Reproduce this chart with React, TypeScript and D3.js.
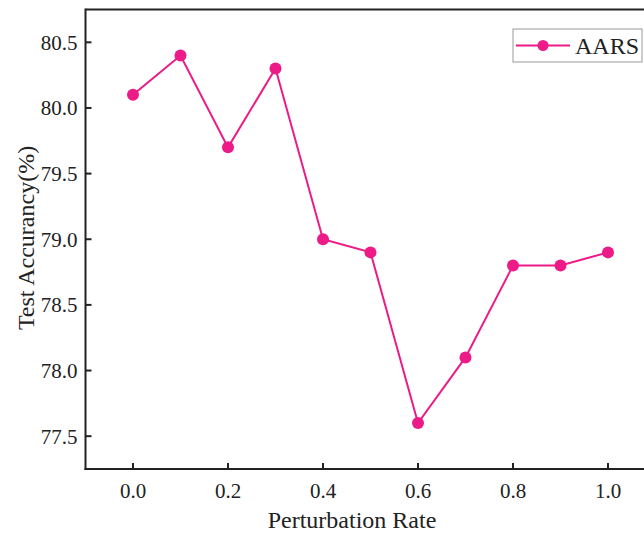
import React from "react";
import * as d3 from "d3";

const rates = [0.0, 0.1, 0.2, 0.3, 0.4, 0.5, 0.6, 0.7, 0.8, 0.9, 1.0];
const accuracy = [80.1, 80.4, 79.7, 80.3, 79.0, 78.9, 77.6, 78.1, 78.8, 78.8, 78.9];
const xTicks = [0.0, 0.2, 0.4, 0.6, 0.8, 1.0];
const yTicks = [77.5, 78.0, 78.5, 79.0, 79.5, 80.0, 80.5];
const seriesName = "AARS";

const COLOR = "#EC1B87";
const FONT = "Liberation Serif, Times New Roman, serif";

export default function App() {
  const W = 644, H = 535;
  const left = 85.5, right = 655.5, top = 9.5, bottom = 469;
  const x = d3.scaleLinear().domain([-0.1, 1.1]).range([left, right]);
  const y = d3.scaleLinear().domain([77.25, 80.75]).range([bottom, top]);
  const line = d3.line<number>().x((_, i) => x(rates[i])).y((d) => y(d));
  const pts = accuracy.map((d, i) => ({ x: x(rates[i]), y: y(d) }));

  return (
    <svg width={W} height={H} style={{ position: "absolute", left: 0, top: 0, fontFamily: FONT }}>
      <rect width={W} height={H} fill="#fff" />
      <line x1={left} x2={right} y1={top} y2={top} stroke="#222" strokeWidth={2} />
      <line x1={left} x2={left} y1={top - 1} y2={bottom + 1} stroke="#222" strokeWidth={2} />
      <line x1={left - 1} x2={right} y1={bottom} y2={bottom} stroke="#222" strokeWidth={2} />
      <line x1={right} x2={right} y1={top} y2={bottom} stroke="#222" strokeWidth={2} />
      {yTicks.map((t) => (
        <g key={"y" + t}>
          <line x1={left} x2={left + 6} y1={y(t)} y2={y(t)} stroke="#222" strokeWidth={2} />
          <text x={left - 8} y={y(t)} dy="0.35em" textAnchor="end" fontSize={21} fill="#222" style={{ fontFamily: FONT }}>
            {t.toFixed(1)}
          </text>
        </g>
      ))}
      {xTicks.map((t) => (
        <g key={"x" + t}>
          <line x1={x(t)} x2={x(t)} y1={bottom} y2={bottom - 6} stroke="#222" strokeWidth={2} />
          <text x={x(t)} y={bottom + 29} textAnchor="middle" fontSize={21} fill="#222" style={{ fontFamily: FONT }}>
            {t.toFixed(1)}
          </text>
        </g>
      ))}
      <text x={352} y={528} textAnchor="middle" fontSize={24} fill="#222" style={{ fontFamily: FONT }}>
        Perturbation Rate
      </text>
      <text
        transform={`translate(34, 238) rotate(-90)`}
        textAnchor="middle"
        fontSize={24}
        fill="#222"
        style={{ fontFamily: FONT }}
      >
        Test Accurancy(%)
      </text>
      <path d={line(accuracy) || ""} fill="none" stroke={COLOR} strokeWidth={2} />
      {pts.map((p, i) => (
        <circle key={i} cx={p.x} cy={p.y} r={6} fill={COLOR} />
      ))}
      <rect x={513} y={29} width={129} height={33} fill="#fff" stroke="#999" strokeWidth={1} />
      <line x1={516} x2={570} y1={45.5} y2={45.5} stroke={COLOR} strokeWidth={2} />
      <circle cx={543} cy={45.5} r={5.5} fill={COLOR} />
      <text x={575} y={45.5} dy="0.35em" fontSize={24} fill="#222" style={{ fontFamily: FONT }}>
        {seriesName}
      </text>
    </svg>
  );
}
